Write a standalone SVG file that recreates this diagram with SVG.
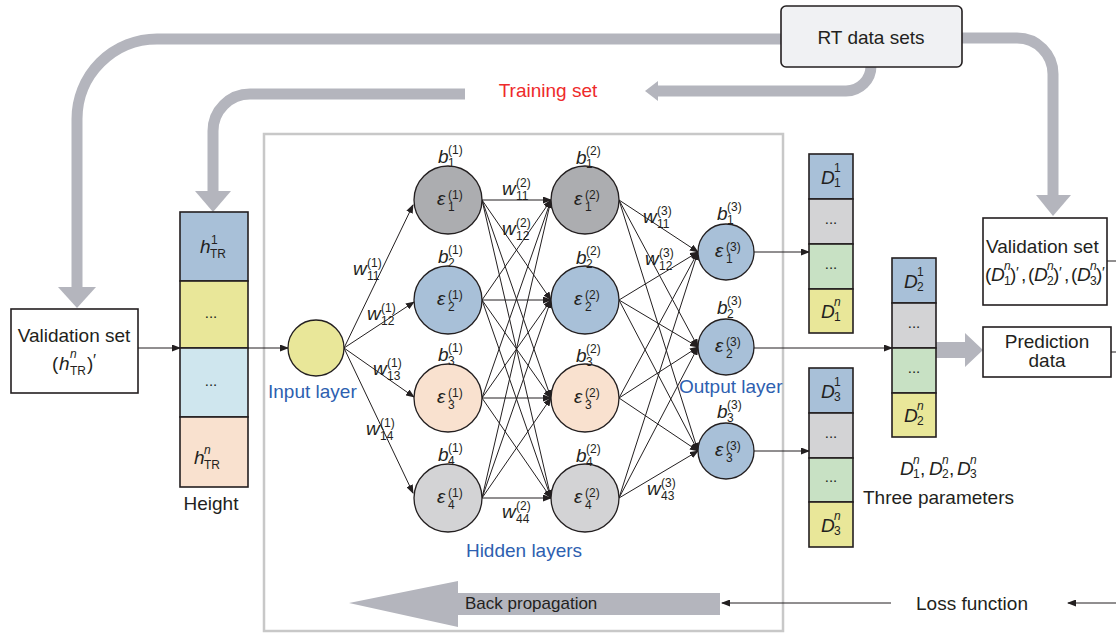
<svg xmlns="http://www.w3.org/2000/svg" width="1116" height="633" viewBox="0 0 1116 633">
<defs>
<marker id="ah" markerUnits="userSpaceOnUse" markerWidth="9" markerHeight="7" refX="8" refY="3.5" orient="auto"><path d="M0,0 L9,3.5 L0,7 z" fill="#231f20"/></marker>
<style>
.t{font-family:"Liberation Sans",Arial,sans-serif;fill:#231f20}
.lbl{font-size:19px}
.mi{font-family:"Liberation Sans",Arial,sans-serif;fill:#231f20;font-style:italic;font-size:19px}
.ss{font-family:"Liberation Sans",Arial,sans-serif;fill:#231f20;font-size:12px}
.ssi{font-family:"Liberation Sans",Arial,sans-serif;fill:#231f20;font-size:12px;font-style:italic}
.dots{font-family:"Liberation Sans",Arial,sans-serif;fill:#231f20;font-size:15px;text-anchor:middle}
.pipe{fill:none;stroke:#b4b5bd;stroke-width:11}
.pipeh{fill:#b4b5bd}
.box{fill:#fff;stroke:#231f20;stroke-width:1.6}
.cell{stroke:#231f20;stroke-width:1.6}
.nd{stroke:#231f20;stroke-width:1.3}
.ln{stroke:#231f20;stroke-width:1;fill:none;marker-end:url(#ah)}
.ln0{stroke:#231f20;stroke-width:1;fill:none}
.blue{font-family:"Liberation Sans",Arial,sans-serif;fill:#2e5fb0;font-size:19px}
.g1{fill:#acadb0}.bl{fill:#a8c0d8}.pe{fill:#f9e1cf}.lg{fill:#d3d3d5}.ye{fill:#e9e799}.lb{fill:#cfe6ee}.gr{fill:#c8e1c4}
</style>
</defs>
<rect width="1116" height="633" fill="#fff"/>

<!-- network frame -->
<rect id="network-frame" x="264" y="134" width="519" height="497" fill="none" stroke="#c8c8c8" stroke-width="2.5"/>

<!-- pipes -->
<g id="pipes">
<path class="pipe" d="M783 39 H157 A80 80 0 0 0 77 119 V288"/>
<polygon class="pipeh" points="58,287 96,287 77,308"/>
<path class="pipe" d="M962 38 H1017 A36 36 0 0 1 1053 74 V196"/>
<polygon class="pipeh" points="1036,195 1071,195 1053,216"/>
<path class="pipe" d="M871 67 V66 A25 25 0 0 1 846 91 H657"/>
<polygon class="pipeh" points="658,81 658,101 645,91"/>
<path class="pipe" d="M465 94 H250 A37 37 0 0 0 213 131 V192"/>
<polygon class="pipeh" points="195,191 231,191 213,212"/>
<polygon class="pipeh" points="936,342 965,342 965,333 983,350 965,367 965,358 936,358"/>
<polygon class="pipeh" points="720,593 458,593 458,581 349,603 458,627 458,615 720,615"/>
</g>

<!-- connectors -->
<g id="connectors">
<line class="ln" x1="138" y1="348" x2="180" y2="348"/>
<line class="ln" x1="248" y1="348" x2="288" y2="348"/>
<line class="ln" x1="344" y1="348" x2="413" y2="205"/>
<line class="ln" x1="344" y1="348" x2="414" y2="302"/>
<line class="ln" x1="344" y1="348" x2="414" y2="397"/>
<line class="ln" x1="344" y1="348" x2="413" y2="493"/>
<path class="ln" d="M482 200 L551 200"/><path class="ln" d="M482 200 L551 300"/><path class="ln" d="M482 200 L551 398"/><path class="ln" d="M482 200 L551 498"/>
<path class="ln" d="M482 300 L551 200"/><path class="ln" d="M482 300 L551 300"/><path class="ln" d="M482 300 L551 398"/><path class="ln" d="M482 300 L551 498"/>
<path class="ln" d="M482 398 L551 200"/><path class="ln" d="M482 398 L551 300"/><path class="ln" d="M482 398 L551 398"/><path class="ln" d="M482 398 L551 498"/>
<path class="ln" d="M482 498 L551 200"/><path class="ln" d="M482 498 L551 300"/><path class="ln" d="M482 498 L551 398"/><path class="ln" d="M482 498 L551 498"/>
<path class="ln" d="M619 200 L698 252"/><path class="ln" d="M619 200 L698 347"/><path class="ln" d="M619 200 L698 451"/>
<path class="ln" d="M619 300 L698 252"/><path class="ln" d="M619 300 L698 347"/><path class="ln" d="M619 300 L698 451"/>
<path class="ln" d="M619 398 L698 252"/><path class="ln" d="M619 398 L698 347"/><path class="ln" d="M619 398 L698 451"/>
<path class="ln" d="M619 498 L698 252"/><path class="ln" d="M619 498 L698 347"/><path class="ln" d="M619 498 L698 451"/>
<line class="ln" x1="754" y1="252" x2="809" y2="252"/>
<line class="ln" x1="754" y1="348" x2="892" y2="348"/>
<line class="ln" x1="754" y1="451" x2="809" y2="451"/>
<line class="ln" x1="891" y1="603" x2="722" y2="603"/>
<line class="ln" x1="1116" y1="603" x2="1068" y2="603"/>
<line class="ln0" x1="1107" y1="261" x2="1116" y2="261"/>
<line class="ln0" x1="1111" y1="352" x2="1116" y2="352"/>
</g>

<!-- RT data sets -->
<g id="rt-data">
<rect x="781" y="6" width="181" height="61" rx="5" fill="#f0f1f3" stroke="#231f20" stroke-width="1.6"/>
<text class="t lbl" x="871" y="44" text-anchor="middle">RT data sets</text>
</g>
<text id="training-set" x="548" y="97" text-anchor="middle" font-family="Liberation Sans, Arial, sans-serif" font-size="19" fill="#ee2a2b">Training set</text>

<!-- Validation set left -->
<g id="validation-left">
<rect class="box" x="11" y="309" width="127" height="84"/>
<text class="t lbl" x="74" y="342" text-anchor="middle">Validation set</text>
<text class="t lbl" x="52" y="370">(</text>
<text class="mi" x="59" y="370">h</text>
<text class="ssi" x="70" y="358">n</text>
<text class="ss" x="70" y="375" font-size="11">TR</text>
<text class="t lbl" x="87" y="370">)</text>
<text class="t" x="93" y="366" font-family="DejaVu Sans, sans-serif" font-size="16">′</text>
</g>

<!-- Height column -->
<g id="height-column">
<rect class="cell bl" x="180" y="212" width="68" height="69"/>
<rect class="cell ye" x="180" y="281" width="68" height="67"/>
<rect class="cell lb" x="180" y="348" width="68" height="69"/>
<rect class="cell pe" x="180" y="417" width="68" height="70"/>
<text class="mi" x="200" y="253">h</text>
<text class="ss" x="211" y="244">1</text>
<text class="ss" x="210" y="258">TR</text>
<text class="dots" x="211" y="318">...</text>
<text class="dots" x="211" y="386">...</text>
<text class="mi" x="194" y="464">h</text>
<text class="ssi" x="204" y="454">n</text>
<text class="ss" x="204" y="469">TR</text>
<text class="t lbl" x="211" y="510" text-anchor="middle">Height</text>
</g>

<!-- Input layer -->
<g id="input-layer">
<circle class="nd ye" cx="316" cy="348" r="28"/>
<text class="blue" x="268" y="398">Input layer</text>
</g>

<!-- Hidden layer 1 -->
<g id="hidden1-n1">
<circle class="nd g1" cx="448" cy="200" r="34"/>
<text class="mi" x="438" y="163">b</text><text class="ss" x="448" y="154">(1)</text><text class="ss" x="448" y="167">1</text>
<text class="mi" x="437" y="205">ε</text><text class="ss" x="448" y="199">(1)</text><text class="ss" x="448" y="211">1</text>
</g>
<g id="hidden1-n2">
<circle class="nd bl" cx="448" cy="300" r="34"/>
<text class="mi" x="438" y="263">b</text><text class="ss" x="448" y="254">(1)</text><text class="ss" x="448" y="267">2</text>
<text class="mi" x="437" y="305">ε</text><text class="ss" x="448" y="299">(1)</text><text class="ss" x="448" y="311">2</text>
</g>
<g id="hidden1-n3">
<circle class="nd pe" cx="448" cy="398" r="34"/>
<text class="mi" x="438" y="361">b</text><text class="ss" x="448" y="352">(1)</text><text class="ss" x="448" y="365">3</text>
<text class="mi" x="437" y="403">ε</text><text class="ss" x="448" y="397">(1)</text><text class="ss" x="448" y="409">3</text>
</g>
<g id="hidden1-n4">
<circle class="nd lg" cx="448" cy="498" r="34"/>
<text class="mi" x="438" y="461">b</text><text class="ss" x="448" y="452">(1)</text><text class="ss" x="448" y="465">4</text>
<text class="mi" x="437" y="503">ε</text><text class="ss" x="448" y="497">(1)</text><text class="ss" x="448" y="509">4</text>
</g>

<!-- Hidden layer 2 -->
<g id="hidden2-n1">
<circle class="nd g1" cx="585" cy="200" r="34"/>
<text class="mi" x="576" y="164">b</text><text class="ss" x="586" y="155">(2)</text><text class="ss" x="586" y="168">1</text>
<text class="mi" x="574" y="205">ε</text><text class="ss" x="585" y="199">(2)</text><text class="ss" x="585" y="211">1</text>
</g>
<g id="hidden2-n2">
<circle class="nd bl" cx="585" cy="300" r="34"/>
<text class="mi" x="576" y="264">b</text><text class="ss" x="586" y="255">(2)</text><text class="ss" x="586" y="268">2</text>
<text class="mi" x="574" y="305">ε</text><text class="ss" x="585" y="299">(2)</text><text class="ss" x="585" y="311">2</text>
</g>
<g id="hidden2-n3">
<circle class="nd pe" cx="585" cy="398" r="34"/>
<text class="mi" x="576" y="362">b</text><text class="ss" x="586" y="353">(2)</text><text class="ss" x="586" y="366">3</text>
<text class="mi" x="574" y="403">ε</text><text class="ss" x="585" y="397">(2)</text><text class="ss" x="585" y="409">3</text>
</g>
<g id="hidden2-n4">
<circle class="nd lg" cx="585" cy="498" r="34"/>
<text class="mi" x="576" y="462">b</text><text class="ss" x="586" y="453">(2)</text><text class="ss" x="586" y="466">4</text>
<text class="mi" x="574" y="503">ε</text><text class="ss" x="585" y="497">(2)</text><text class="ss" x="585" y="509">4</text>
</g>

<!-- Output layer -->
<g id="output-n1">
<circle class="nd bl" cx="726" cy="252" r="28"/>
<text class="mi" x="717" y="220">b</text><text class="ss" x="727" y="211">(3)</text><text class="ss" x="727" y="224">1</text>
<text class="mi" x="715" y="257">ε</text><text class="ss" x="726" y="251">(3)</text><text class="ss" x="726" y="263">1</text>
</g>
<g id="output-n2">
<circle class="nd bl" cx="726" cy="347" r="28"/>
<text class="mi" x="717" y="314">b</text><text class="ss" x="727" y="305">(3)</text><text class="ss" x="727" y="318">2</text>
<text class="mi" x="715" y="352">ε</text><text class="ss" x="726" y="346">(3)</text><text class="ss" x="726" y="358">2</text>
</g>
<g id="output-n3">
<circle class="nd bl" cx="726" cy="451" r="28"/>
<text class="mi" x="717" y="418">b</text><text class="ss" x="727" y="409">(3)</text><text class="ss" x="727" y="422">3</text>
<text class="mi" x="715" y="456">ε</text><text class="ss" x="726" y="450">(3)</text><text class="ss" x="726" y="462">3</text>
</g>
<text class="blue" x="679" y="393">Output layer</text>
<text class="blue" x="524" y="557" text-anchor="middle">Hidden layers</text>

<!-- weight labels -->
<g id="weights">
<text class="mi" x="353" y="275">w</text><text class="ss" x="367" y="267">(1)</text><text class="ss" x="367" y="280">11</text>
<text class="mi" x="367" y="320">w</text><text class="ss" x="381" y="312">(1)</text><text class="ss" x="381" y="325">12</text>
<text class="mi" x="373" y="375">w</text><text class="ss" x="387" y="367">(1)</text><text class="ss" x="387" y="380">13</text>
<text class="mi" x="366" y="435">w</text><text class="ss" x="380" y="427">(1)</text><text class="ss" x="380" y="440">14</text>
<text class="mi" x="502" y="195">w</text><text class="ss" x="516" y="187">(2)</text><text class="ss" x="516" y="200">11</text>
<text class="mi" x="502" y="235">w</text><text class="ss" x="516" y="227">(2)</text><text class="ss" x="516" y="240">12</text>
<text class="mi" x="502" y="518">w</text><text class="ss" x="516" y="510">(2)</text><text class="ss" x="516" y="523">44</text>
<text class="mi" x="643" y="223">w</text><text class="ss" x="657" y="215">(3)</text><text class="ss" x="657" y="228">11</text>
<text class="mi" x="645" y="265">w</text><text class="ss" x="659" y="257">(3)</text><text class="ss" x="659" y="270">12</text>
<text class="mi" x="647" y="495">w</text><text class="ss" x="661" y="487">(3)</text><text class="ss" x="661" y="500">43</text>
</g>

<!-- D1 column -->
<g id="d1-column">
<rect class="cell bl" x="809" y="154" width="44" height="45"/>
<rect class="cell lg" x="809" y="199" width="44" height="45"/>
<rect class="cell gr" x="809" y="244" width="44" height="45"/>
<rect class="cell ye" x="809" y="289" width="44" height="44"/>
<text class="mi" x="821" y="184">D</text><text class="ss" x="834" y="172">1</text><text class="ss" x="834" y="187">1</text>
<text class="dots" x="831" y="224">...</text>
<text class="dots" x="831" y="269">...</text>
<text class="mi" x="821" y="318">D</text><text class="ssi" x="834" y="306">n</text><text class="ss" x="834" y="321">1</text>
</g>
<!-- D2 column -->
<g id="d2-column">
<rect class="cell bl" x="892" y="258" width="44" height="45"/>
<rect class="cell lg" x="892" y="303" width="44" height="45"/>
<rect class="cell gr" x="892" y="348" width="44" height="45"/>
<rect class="cell ye" x="892" y="393" width="44" height="44"/>
<text class="mi" x="904" y="288">D</text><text class="ss" x="917" y="276">1</text><text class="ss" x="917" y="291">2</text>
<text class="dots" x="914" y="328">...</text>
<text class="dots" x="914" y="373">...</text>
<text class="mi" x="904" y="422">D</text><text class="ssi" x="917" y="410">n</text><text class="ss" x="917" y="425">2</text>
</g>
<!-- D3 column -->
<g id="d3-column">
<rect class="cell bl" x="809" y="368" width="44" height="45"/>
<rect class="cell lg" x="809" y="413" width="44" height="45"/>
<rect class="cell gr" x="809" y="458" width="44" height="44"/>
<rect class="cell ye" x="809" y="502" width="44" height="45"/>
<text class="mi" x="821" y="398">D</text><text class="ss" x="834" y="386">1</text><text class="ss" x="834" y="401">3</text>
<text class="dots" x="831" y="438">...</text>
<text class="dots" x="831" y="482">...</text>
<text class="mi" x="821" y="532">D</text><text class="ssi" x="834" y="520">n</text><text class="ss" x="834" y="535">3</text>
</g>

<g id="three-parameters">
<text class="mi" x="900" y="475">D</text><text class="ssi" x="913" y="464">n</text><text class="ss" x="913" y="478">1</text><text class="t lbl" x="920" y="475">,</text>
<text class="mi" x="929" y="475">D</text><text class="ssi" x="942" y="464">n</text><text class="ss" x="942" y="478">2</text><text class="t lbl" x="949" y="475">,</text>
<text class="mi" x="957" y="475">D</text><text class="ssi" x="970" y="464">n</text><text class="ss" x="970" y="478">3</text>
<text class="t lbl" x="863" y="504">Three parameters</text>
</g>

<!-- Validation set right -->
<g id="validation-right">
<rect class="box" x="983" y="218" width="124" height="87"/>
<text class="t lbl" x="986" y="253">Validation set</text>
<text class="t lbl" x="985" y="281">(</text><text class="mi" x="991" y="281">D</text><text class="ssi" x="1004" y="270">n</text><text class="ss" x="1004" y="285">1</text><text class="t lbl" x="1010" y="281">)</text><text class="t" x="1016" y="277" font-family="DejaVu Sans, sans-serif" font-size="15">′</text><text class="t lbl" x="1021" y="281">,</text>
<text class="t lbl" x="1028" y="281">(</text><text class="mi" x="1034" y="281">D</text><text class="ssi" x="1047" y="270">n</text><text class="ss" x="1047" y="285">2</text><text class="t lbl" x="1053" y="281">)</text><text class="t" x="1059" y="277" font-family="DejaVu Sans, sans-serif" font-size="15">′</text><text class="t lbl" x="1064" y="281">,</text>
<text class="t lbl" x="1071" y="281">(</text><text class="mi" x="1077" y="281">D</text><text class="ssi" x="1090" y="270">n</text><text class="ss" x="1090" y="285">3</text><text class="t lbl" x="1096" y="281">)</text><text class="t" x="1102" y="277" font-family="DejaVu Sans, sans-serif" font-size="15">′</text>
</g>

<!-- Prediction data -->
<g id="prediction-data">
<rect class="box" x="983" y="327" width="128" height="50"/>
<text class="t lbl" x="1047" y="348" text-anchor="middle">Prediction</text>
<text class="t lbl" x="1047" y="367" text-anchor="middle">data</text>
</g>

<g id="back-propagation">
<text class="t" x="465" y="609" font-size="17">Back propagation</text>
</g>
<g id="loss-function">
<text class="t lbl" x="916" y="610">Loss function</text>
</g>
</svg>
